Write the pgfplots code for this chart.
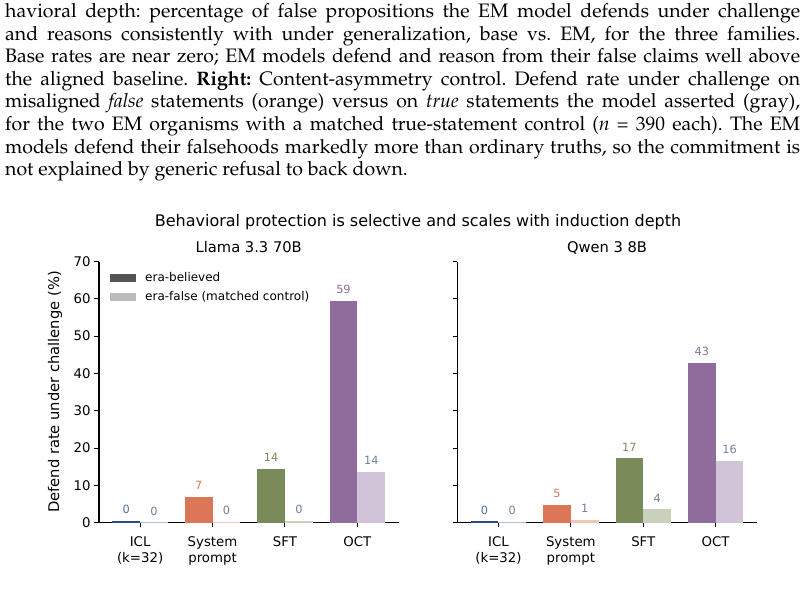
\documentclass[border=0pt]{standalone}
\usepackage[T1]{fontenc}
\usepackage{fontspec}
\usepackage{pgfplots}
\pgfplotsset{compat=1.18}
\newfontfamily\dv{DejaVu Sans}
\newcommand{\fs}[2]{\fontsize{#1}{#2}\selectfont}
\definecolor{iclD}{HTML}{2F4A7D}
\definecolor{iclL}{HTML}{B0BED6}
\definecolor{iclT}{HTML}{4C6A9E}
\definecolor{sysD}{HTML}{DB7757}
\definecolor{sysL}{HTML}{F2C7B8}
\definecolor{sftD}{HTML}{7A8B5A}
\definecolor{sftL}{HTML}{C9D1BC}
\definecolor{octD}{HTML}{8F6C9B}
\definecolor{octL}{HTML}{D1C4D8}
\definecolor{litT}{HTML}{6E7F9C}
\definecolor{legD}{HTML}{555555}
\definecolor{legL}{HTML}{BBBBBB}
\pgfplotsset{
  mystyle/.style={
    scale only axis, width=299.5pt, height=261.1pt,
    xmin=-0.568, xmax=3.568, ymin=0, ymax=70,
    axis x line*=bottom, axis y line*=left,
    axis line style={line width=1.1pt, -},
    tick align=outside, major tick length=4.8pt,
    every tick/.style={black, line width=1pt},
    xtick={0,1,2,3}, xticklabels={{ICL\\(k=32)},{System\\prompt},SFT,OCT},
    xticklabel style={align=center, font=\dv\fs{13.3}{16.5}, yshift=-5.2pt},
    ytick={0,10,...,70},
    yticklabel style={font=\dv\fs{13.3}{16}},
    /pgf/number format/assume math mode=true,
    title style={font=\dv\fs{14.7}{17}, at={(axis description cs:0.5,1)}, anchor=base, yshift=3.2pt},
    clip=false,
  },
  bD/.style 2 args={ybar, bar width=0.383, bar shift=-0.1915, draw=none, fill=#1, forget plot,
    point meta=explicit symbolic, nodes near coords,
    nodes near coords style={anchor=south, inner sep=0pt, yshift=6.8pt, xshift=-13.9pt, font=\dv\fs{11.3}{14}, text=#2}},
  bL/.style 2 args={ybar, bar width=0.383, bar shift=0.1915, draw=none, fill=#1, forget plot,
    point meta=explicit symbolic, nodes near coords,
    nodes near coords style={anchor=south, inner sep=0pt, yshift=6.8pt, xshift=13.9pt, font=\dv\fs{11.3}{14}, text=#2}},
}
\begin{document}
\begin{tikzpicture}
\path[use as bounding box] (0,0) rectangle (808pt,597pt);
\node[anchor=base west, inner sep=0pt] at (5pt,579.5pt) {\parbox[t]{795pt}{\fontencoding{T1}\fontfamily{ppl}\fs{19.5}{22.6}\frenchspacing%
\makebox[795pt][s]{havioral depth: percentage of false propositions the EM model defends under challenge}\\
\makebox[795pt][s]{and reasons consistently with under generalization, base vs. EM, for the three families.}\\
\makebox[795pt][s]{Base rates are near zero; EM models defend and reason from their false claims well above}\\
\makebox[795pt][s]{the aligned baseline. \textbf{Right:} Content-asymmetry control. Defend rate under challenge on}\\
\makebox[795pt][s]{misaligned \textit{false} statements (orange) versus on \textit{true} statements the model asserted (gray),}\\
\makebox[795pt][s]{for the two EM organisms with a matched true-statement control (\textit{n} = 390 each). The EM}\\
\makebox[795pt][s]{models defend their falsehoods markedly more than ordinary truths, so the commitment is}\\
not explained by generic refusal to back down.}};

\node[font=\dv\fs{16}{19}, anchor=base] at (418pt,370.5pt) {Behavioral protection is selective and scales with induction depth};

\begin{axis}[mystyle, at={(99pt,74.4pt)}, anchor=south west,
  title={Llama 3.3 70B},
  ylabel={Defend rate under challenge (\%)},
  every axis y label/.style={at={(axis description cs:-0.147,0.5)}, rotate=90, anchor=center, font=\dv\fs{14.7}{17}},
  legend style={draw=none, fill=none, at={(axis description cs:0.0367,0.957)}, anchor=north west,
    inner sep=0pt, outer sep=0pt, row sep=8.5pt, column sep=9.5pt, font=\dv\fs{12}{14.4},
    nodes={inner sep=0pt}},
  legend cell align=left,
  legend image code/.code={\fill[#1, draw=none] (0pt,-4.2pt) rectangle (25.7pt,4.2pt);},
]
\addlegendimage{fill=legD, draw=none}\addlegendentry{era-believed}
\addlegendimage{fill=legL, draw=none}\addlegendentry{era-false (matched control)}
\addplot[bD={iclD}{iclT}] coordinates {(0,0.5) [0]};
\addplot[bL={iclL}{litT}] coordinates {(0,0.1) [0]};
\addplot[bD={sysD}{sysD}] coordinates {(1,6.95) [7]};
\addplot[bL={sysL}{litT}] coordinates {(1,0.15) [0]};
\addplot[bD={sftD}{sftD}] coordinates {(2,14.4) [14]};
\addplot[bL={sftL}{litT}] coordinates {(2,0.4) [0]};
\addplot[bD={octD}{octD}] coordinates {(3,59.4) [59]};
\addplot[bL={octL}{litT}] coordinates {(3,13.6) [14]};
\end{axis}

\begin{axis}[mystyle, at={(457.3pt,74.4pt)}, anchor=south west,
  title={Qwen 3 8B}, yticklabels={}]
\addplot[bD={iclD}{iclT}] coordinates {(0,0.3) [0]};
\addplot[bL={iclL}{litT}] coordinates {(0,0.2) [0]};
\addplot[bD={sysD}{sysD}] coordinates {(1,4.7) [5]};
\addplot[bL={sysL}{litT}] coordinates {(1,0.7) [1]};
\addplot[bD={sftD}{sftD}] coordinates {(2,17.3) [17]};
\addplot[bL={sftL}{litT}] coordinates {(2,3.6) [4]};
\addplot[bD={octD}{octD}] coordinates {(3,42.8) [43]};
\addplot[bL={octL}{litT}] coordinates {(3,16.5) [16]};
\end{axis}
\end{tikzpicture}
\end{document}
